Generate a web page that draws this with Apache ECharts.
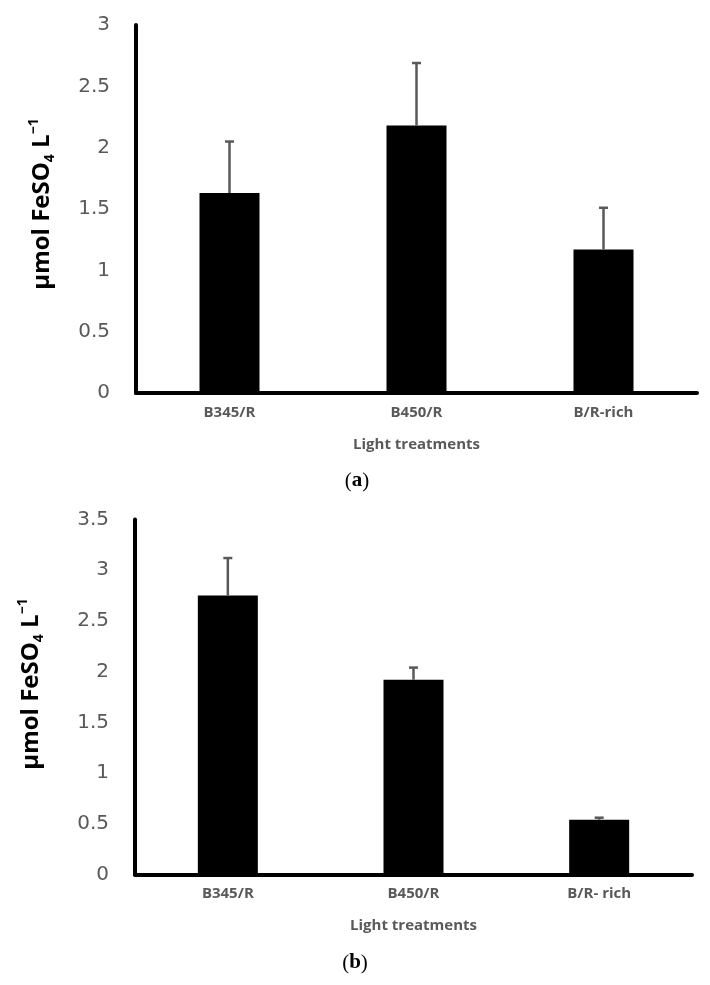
<!DOCTYPE html>
<html>
<head>
<meta charset="utf-8">
<script src="https://cdn.jsdelivr.net/npm/echarts@6/dist/echarts.min.js"></script>
<style>
html,body{margin:0;padding:0;background:#fff;}
#c{width:710px;height:985px;}
</style>
</head>
<body>
<div id="c"></div>
<script>
// ---- data ----
var categoriesA = ['B345/R', 'B450/R', 'B/R-rich'];
var valuesA = [1.63, 2.18, 1.17];
var errorsA = [0.42, 0.51, 0.34];

var categoriesB = ['B345/R', 'B450/R', 'B/R- rich'];
var valuesB = [2.75, 1.92, 0.54];
var errorsB = [0.37, 0.12, 0.02];

var yTicksA = { min: 0, max: 3, interval: 0.5 };
var yTicksB = { min: 0, max: 3.5, interval: 0.5 };

var xName = 'Light treatments';
var captionA = 'a';
var captionB = 'b';

// ---- build ----
var gray = '#595959';
var chart = echarts.init(document.getElementById('c'), null, { renderer: 'canvas' });

function errData(vals, errs) {
  return vals.map(function (v, i) { return [i, v, v + errs[i]]; });
}

function errRender(params, api) {
  var x = api.value(0);
  var base = api.coord([x, api.value(1)]);
  var top = api.coord([x, api.value(2)]);
  var half = 4.5;
  var st = { stroke: gray, lineWidth: 2.5 };
  return {
    type: 'group',
    children: [
      { type: 'line', shape: { x1: base[0], y1: base[1], x2: top[0], y2: top[1] }, style: st },
      { type: 'line', shape: { x1: top[0] - half, y1: top[1], x2: top[0] + half, y2: top[1] }, style: st }
    ]
  };
}

function xAxisCfg(cats, gridIndex) {
  return {
    type: 'category', gridIndex: gridIndex, data: cats,
    axisLine: { lineStyle: { color: '#000', width: 4 } },
    axisTick: { show: false },
    axisLabel: { color: gray, fontFamily: 'Open Sans', fontWeight: 'bold', fontSize: 15, margin: 12 },
    name: xName, nameLocation: 'middle', nameGap: 44,
    nameTextStyle: { color: gray, fontFamily: 'Open Sans', fontWeight: 'bold', fontSize: 15 }
  };
}

function yAxisCfg(t, gridIndex) {
  return {
    type: 'value', gridIndex: gridIndex, min: t.min, max: t.max, interval: t.interval,
    axisLine: { show: true, lineStyle: { color: '#000', width: 4 } },
    axisTick: { show: false },
    splitLine: { show: false },
    axisLabel: { color: gray, fontFamily: 'DejaVu Sans', fontSize: 20, margin: 26 }
  };
}

var nameRich = {
  m: { fontFamily: 'Open Sans', fontWeight: 'bold', fontSize: 24, color: gray, lineHeight: 30 },
  sub: { fontFamily: 'Open Sans', fontWeight: 'bold', fontSize: 14, color: gray, lineHeight: 14, verticalAlign: 'bottom' },
  sup: { fontFamily: 'Open Sans', fontWeight: 'bold', fontSize: 14, color: gray, lineHeight: 14, verticalAlign: 'top' }
};
var nameText = '{m|µmol FeSO}{sub|4}{m| L}{sup|−1}';

var captionRich = {
  p: { fontFamily: 'Liberation Serif', fontSize: 21, color: '#000' },
  b: { fontFamily: 'Liberation Serif', fontSize: 21, fontWeight: 'bold', color: '#000' }
};

chart.setOption({
  animation: false,
  backgroundColor: '#fff',
  grid: [
    { left: 136, top: 25, width: 561, height: 368 },
    { left: 135, top: 519.5, width: 557, height: 355 }
  ],
  xAxis: [xAxisCfg(categoriesA, 0), xAxisCfg(categoriesB, 1)],
  yAxis: [yAxisCfg(yTicksA, 0), yAxisCfg(yTicksB, 1)],
  series: [
    { type: 'bar', xAxisIndex: 0, yAxisIndex: 0, data: valuesA, barWidth: 60, itemStyle: { color: '#000' } },
    { type: 'custom', xAxisIndex: 0, yAxisIndex: 0, data: errData(valuesA, errorsA), renderItem: errRender, z: 5 },
    { type: 'bar', xAxisIndex: 1, yAxisIndex: 1, data: valuesB, barWidth: 60, itemStyle: { color: '#000' } },
    { type: 'custom', xAxisIndex: 1, yAxisIndex: 1, data: errData(valuesB, errorsB), renderItem: errRender, z: 5 }
  ],
  graphic: [
    { type: 'text', x: 42, y: 204, rotation: Math.PI / 2,
      style: { text: nameText, rich: nameRich, align: 'center', verticalAlign: 'middle' } },
    { type: 'text', x: 31, y: 684, rotation: Math.PI / 2,
      style: { text: nameText, rich: nameRich, align: 'center', verticalAlign: 'middle' } },
    { type: 'text', x: 357, y: 481,
      style: { text: '{p|(}{b|' + captionA + '}{p|)}', rich: captionRich, align: 'center', verticalAlign: 'middle' } },
    { type: 'text', x: 355, y: 963,
      style: { text: '{p|(}{b|' + captionB + '}{p|)}', rich: captionRich, align: 'center', verticalAlign: 'middle' } }
  ]
});
</script>
</body>
</html>
